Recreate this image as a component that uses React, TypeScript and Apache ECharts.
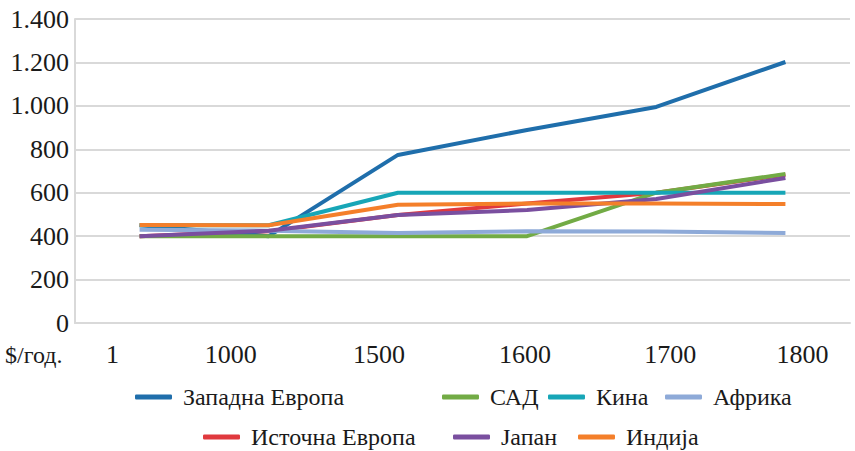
import React, { useEffect, useRef } from 'react';
import * as echarts from 'echarts';

const years = ['1', '1000', '1500', '1600', '1700', '1800'];
const names = ['Западна Европа', 'САД', 'Кина', 'Африка', 'Источна Европа', 'Јапан', 'Индија'];
const westernEurope = [450, 400, 774, 889, 995, 1202];
const usa = [400, 400, 400, 400, 600, 686];
const china = [450, 450, 600, 600, 600, 600];
const africa = [430, 425, 414, 422, 421, 414];
const easternEurope = [400, 422, 497, 550, 600, 683];
const japan = [400, 425, 497, 520, 571, 668];
const india = [451, 450, 545, 550, 550, 548];
const yUnit = '$/год.';

const values = [westernEurope, usa, china, africa, easternEurope, japan, india];
const colors = ['#1f6eab', '#72ab45', '#17a6b7', '#8eaad8', '#e0393e', '#7a4f9f', '#f47f2a'];
const zOrder = [2, 2, 2, 2, 1, 2, 2];
const labelShift = [-27, -38, -19, -2, 14, 17];
const legendPos = [
  [135, 385],
  [442, 385],
  [548, 385],
  [665, 385],
  [203, 425],
  [453, 425],
  [578, 425],
];

const FONT = 'Liberation Serif';

export default function App() {
  const ref = useRef<HTMLDivElement>(null);
  useEffect(() => {
    if (!ref.current) return;
    const chart = echarts.init(ref.current, undefined, { renderer: 'svg' });
    const rich: Record<string, any> = {};
    labelShift.forEach((s, i) => {
      rich['o' + i] = {
        fontFamily: FONT,
        fontSize: 26,
        color: '#1a1a1a',
        padding: s < 0 ? [0, -2 * s, 0, 0] : [0, 0, 0, 2 * s],
      };
    });
    const legendText = { fontFamily: FONT, fontSize: 24, color: '#1a1a1a', padding: [0, 0, 0, 6] };
    chart.setOption({
      animation: false,
      backgroundColor: '#ffffff',
      textStyle: { fontFamily: FONT },
      grid: { left: 75, right: 5, top: 19, bottom: 128, containLabel: false },
      xAxis: {
        type: 'category',
        data: years,
        boundaryGap: true,
        axisLine: { show: true, lineStyle: { color: '#d9d9d9', width: 2 } },
        axisTick: { show: false },
        axisLabel: {
          interval: 0,
          margin: 18,
          fontFamily: FONT,
          fontSize: 26,
          formatter: (v: string, i: number) => `{o${i}|${v}}`,
          rich,
        },
      },
      yAxis: {
        type: 'value',
        min: 0,
        max: 1400,
        interval: 200,
        axisLine: { show: true, lineStyle: { color: '#d9d9d9', width: 2 } },
        axisTick: { show: false },
        splitLine: { lineStyle: { color: '#d9d9d9', width: 2 } },
        axisLabel: {
          margin: 6,
          fontFamily: FONT,
          fontSize: 26,
          color: '#1a1a1a',
          formatter: (v: number) => String(v).replace(/\B(?=(\d{3})+(?!\d))/g, '.'),
        },
      },
      legend: names.map((n, i) => ({
        data: [n],
        left: legendPos[i][0],
        top: legendPos[i][1],
        icon: 'roundRect',
        itemWidth: 37,
        itemHeight: 5,
        padding: 0,
        textStyle: legendText,
      })),
      graphic: [
        {
          type: 'text',
          left: 5,
          top: 343,
          style: { text: yUnit, fontFamily: FONT, fontSize: 24, fill: '#1a1a1a' },
        },
      ],
      series: names.map((n, i) => ({
        name: n,
        type: 'line',
        data: values[i],
        symbol: 'none',
        z: zOrder[i],
        color: colors[i],
        lineStyle: { width: 4, color: colors[i] },
      })),
    });
    return () => chart.dispose();
  }, []);
  return <div ref={ref} style={{ position: 'fixed', left: 0, top: 0, width: 855, height: 451 }} />;
}
